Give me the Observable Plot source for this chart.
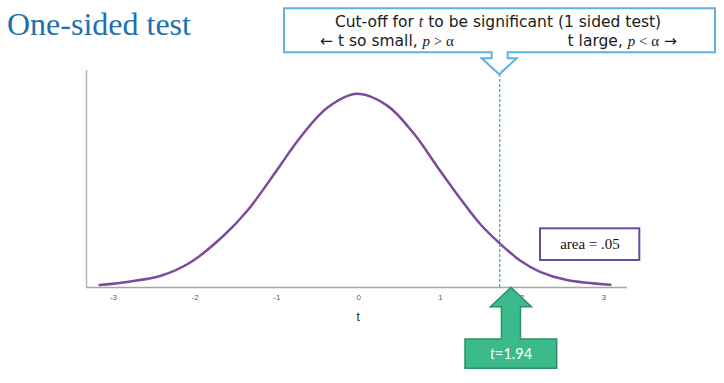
<!DOCTYPE html>
<html>
<head>
<meta charset="utf-8">
<script src="https://cdn.jsdelivr.net/npm/d3@7"></script>
<script src="https://cdn.jsdelivr.net/npm/@observablehq/plot@0.6"></script>
<style>
  html, body { margin: 0; padding: 0; background: #fff; }
  #chart { position: relative; width: 724px; height: 383px; overflow: hidden; }
  #chart svg { display: block; }
</style>
</head>
<body>
<div id="chart"></div>
<script>
// ---- data ----
const tValues = [-3.17, -2.79, -2.42, -2.06, -1.65, -1.36, -1.09, -0.96, -0.71, -0.38, -0.02, 0.35, 0.68, 0.96, 1.25, 1.49, 1.72, 1.98, 2.22, 2.55, 3.08];
const densityValues = [0.0049, 0.0123, 0.0239, 0.051, 0.106, 0.157, 0.218, 0.249, 0.307, 0.367, 0.395, 0.371, 0.313, 0.247, 0.180, 0.129, 0.091, 0.0545, 0.0320, 0.0151, 0.0055];
const tickLabels = [-3, -2, -1, 0, 1, 2, 3];
const cutoffLine = [1.726];   // dashed cut-off line position (t)
const arrowT = [1.87];        // green arrow tip position (t)
const xDomain = [-3.33, 3.29];
const yDomain = [0, 0.4426];

const titleText = "One-sided test";
const calloutLine1 = ["Cut-off for ", "t", " to be significant (1 sided test)"];
const calloutLeft = ["\u2190 t so small, ", "p", " > \u03b1"];
const calloutRight = ["t large, ", "p", " < \u03b1", " \u2192"];
const areaText = "area = .05";
const arrowText = ["t", "=1.94"];
const axisLabel = "t";

const curve = tValues.map((t, i) => ({t, d: densityValues[i]}));

const chart = Plot.plot({
  width: 724,
  height: 383,
  marginLeft: 86,
  marginRight: 97,
  marginTop: 70,
  marginBottom: 96,
  style: {fontSize: "8px", fontFamily: "'Liberation Sans', Arial, sans-serif", color: "#595959", background: "#fff"},
  x: {domain: xDomain, ticks: tickLabels, tickSize: 0, tickPadding: 7, tickFormat: d => d, label: null},
  y: {domain: yDomain, axis: null},
  marks: [
    Plot.ruleY([0], {stroke: "#a6a6a6", strokeWidth: 1.5}),
    Plot.ruleX([xDomain[0]], {stroke: "#b3b3b3", strokeWidth: 1.5}),
    Plot.line(curve, {x: "t", y: "d", stroke: "#7d4a9e", strokeWidth: 2.5, curve: "catmull-rom"}),
    Plot.ruleX(cutoffLine, {y1: 0, y2: 0.434, stroke: "#4aa8dc", strokeWidth: 1.3, strokeDasharray: "3,2"})
  ]
});
document.getElementById("chart").appendChild(chart);

const xs = chart.scale("x");
const svg = d3.select(chart);
const g = svg.append("g").attr("text-anchor", "start");

const sans = "'DejaVu Sans', Verdana, sans-serif";
const serif = "'Liberation Serif', 'Times New Roman', serif";

// Title
g.append("text").attr("x", 7).attr("y", 35).attr("text-anchor", "start")
  .attr("font-family", serif)
  .attr("font-size", 32).attr("fill", "#1f6fae").text(titleText);

// Callout with downward notch
const cx = xs.apply(cutoffLine[0]);
const callout = `M284,8.3 H715 V52.3 H${cx + 8.5} V58.3 H${cx + 17.5} L${cx},74.3 L${cx - 17.5},58.3 H${cx - 7.5} V52.3 H284 Z`;
g.append("path").attr("d", callout).attr("fill", "#fff")
  .attr("stroke", "#5fb0e4").attr("stroke-width", 2);

// line 1
const l1 = g.append("text").attr("x", 498).attr("y", 26.5)
  .attr("font-family", sans).attr("font-size", 15.5).attr("fill", "#1a1a1a")
  .attr("text-anchor", "middle");
l1.append("tspan").text(calloutLine1[0]);
l1.append("tspan").text(calloutLine1[1]).attr("font-family", serif).attr("font-style", "italic").attr("font-size", 16);
l1.append("tspan").text(calloutLine1[2]);

// line 2
function line2(x, y, parts, anchor) {
  const t = g.append("text").attr("x", x).attr("y", y)
    .attr("font-family", sans).attr("font-size", 15.5).attr("fill", "#1a1a1a")
    .attr("text-anchor", anchor);
  t.append("tspan").text(parts[0]);
  t.append("tspan").text(parts[1]).attr("font-family", serif).attr("font-style", "italic").attr("font-size", 15);
  t.append("tspan").text(parts[2]).attr("font-family", serif).attr("font-size", 15);
  if (parts[3]) t.append("tspan").text(parts[3]);
}
line2(320, 46, calloutLeft, "start");
line2(677, 46, calloutRight, "end");

// area box
g.append("rect").attr("x", 540).attr("y", 228.3).attr("width", 99.3).attr("height", 31.7)
  .attr("fill", "#fff").attr("stroke", "#6a4aa8").attr("stroke-width", 2);
g.append("text").attr("x", 590).attr("y", 249).attr("text-anchor", "middle")
  .attr("font-family", serif).attr("font-size", 15).attr("fill", "#111").text(areaText);

// green arrow
const tx = xs.apply(arrowT[0]);
const arrow = `M${tx},287.3 L${tx + 20.5},306.7 H${tx + 9.5} V339 H556.7 V368.3 H465 V339 H${tx - 9.5} V306.7 H${tx - 20.5} Z`;
g.append("path").attr("d", arrow).attr("fill", "#3bba8b")
  .attr("stroke", "#2c8e6c").attr("stroke-width", 1.5);
const at = g.append("text").attr("x", 511).attr("y", 359).attr("text-anchor", "middle")
  .attr("font-family", "Lato, 'Open Sans', sans-serif").attr("font-size", 14.5).attr("fill", "#fff");
at.append("tspan").attr("font-style", "italic").text(arrowText[0]);
at.append("tspan").text(arrowText[1]);

// axis label
g.append("text").attr("x", xs.apply(0)).attr("y", 320.5).attr("text-anchor", "middle")
  .attr("font-family", "'Liberation Sans', Arial, sans-serif").attr("font-size", 12).attr("fill", "#222").text(axisLabel);
</script>
</body>
</html>
